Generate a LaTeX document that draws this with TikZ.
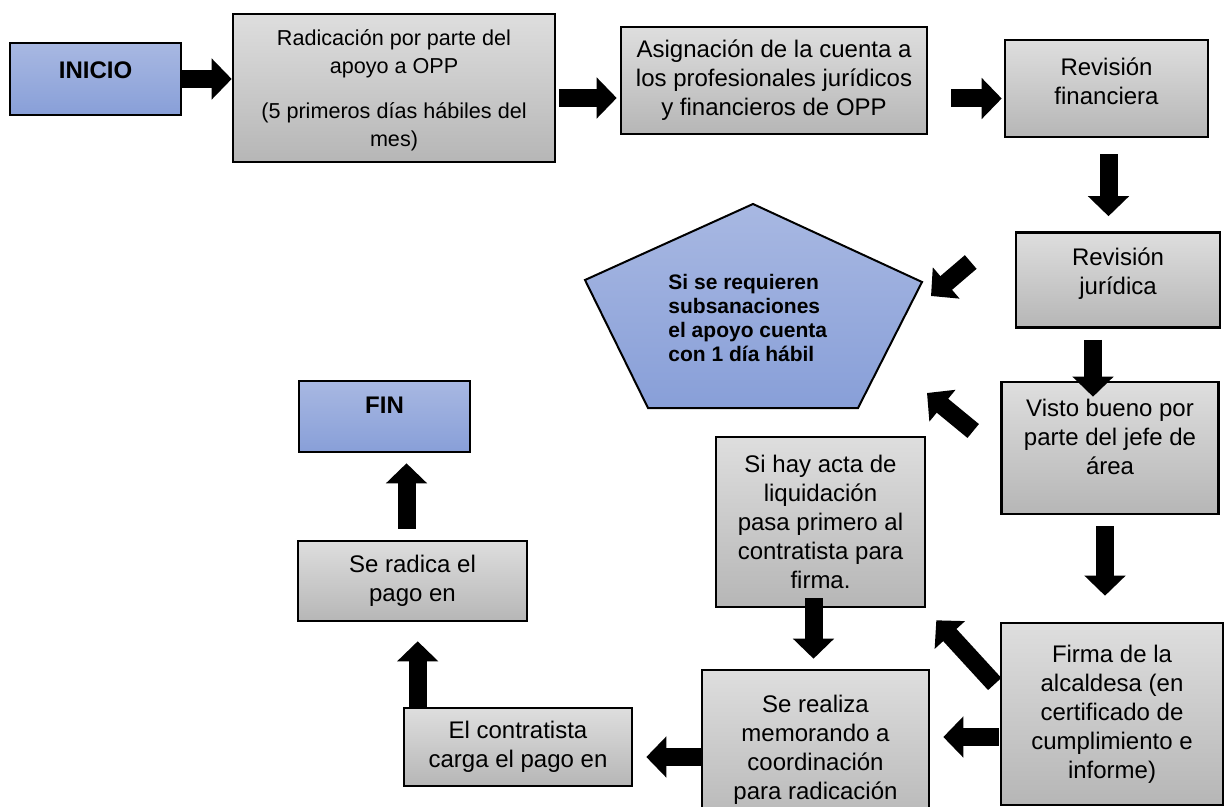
\documentclass[tikz,border=0pt]{standalone}
\usepackage{fontspec}
\setmainfont{Liberation Sans}
\usetikzlibrary{arrows.meta,calc}

\definecolor{boxtop}{RGB}{222,222,222}
\definecolor{boxbot}{RGB}{182,182,182}
\definecolor{bluetop}{RGB}{168,184,226}
\definecolor{bluebot}{RGB}{136,159,216}

\begin{document}
\begin{tikzpicture}[x=0.5pt,y=-0.5pt,
			graybox/.style={rectangle, draw=black, line width=1.3pt, top color=boxtop, bottom color=boxbot, align=center, inner sep=0pt, font=\fontsize{12}{14.5}\selectfont},
			bluebox/.style={rectangle, draw=black, line width=1.3pt, top color=bluetop, bottom color=bluebot, align=center, inner sep=0pt, font=\bfseries\fontsize{12}{14.5}\selectfont},
			lift/.style={text depth=#1},
			blk/.style={line width=9pt, -{Triangle[width=20pt,length=10pt]}},
			]
\useasboundingbox (0,0) rectangle (1224,807);

% boxes
\node[bluebox, lift=9pt, minimum width=85.5pt, minimum height=36pt] (inicio) at (95.5,79) {INICIO};
\node[graybox, lift=-3.5pt, font=\fontsize{10.8}{14}\selectfont, minimum width=161pt, minimum height=74pt] (rad) at (394,88) {Radicación por parte del\\apoyo a OPP\\[8.5pt](5 primeros días hábiles del\\mes)};
\node[graybox, minimum width=153pt, minimum height=53.5pt] (asig) at (774,80.5) {Asignación de la cuenta a\\los profesionales jurídicos\\y financieros de OPP};
\node[graybox, lift=7pt, minimum width=101.5pt, minimum height=48.5pt] (revf) at (1106.5,88.5) {Revisión\\financiera};
\node[graybox, lift=8.5pt, minimum width=102pt, minimum height=47.5pt] (revj) at (1118,280) {Revisión\\jurídica};
\node[graybox, lift=11.5pt, minimum width=108.5pt, minimum height=66pt] (visto) at (1110,448) {Visto bueno por\\parte del jefe de\\área};
\node[graybox, minimum width=111pt, minimum height=91pt] (firma) at (1112,714) {Firma de la\\alcaldesa (en\\certificado de\\cumplimiento e\\informe)};
\node[graybox, minimum width=104.5pt, minimum height=85pt] (acta) at (820.5,522) {Si hay acta de\\liquidación\\pasa primero al\\contratista para\\firma.};
\node[graybox, minimum width=113.5pt, minimum height=80pt] (realiza) at (815.5,750) {Se realiza\\memorando a\\coordinación\\para radicación};
\node[graybox, minimum width=114pt, minimum height=39pt] (contr) at (518,747) {El contratista\\carga el pago en};
\node[graybox, minimum width=114.5pt, minimum height=40pt] (radica) at (412.5,581) {Se radica el\\pago en};
\node[bluebox, lift=11.5pt, minimum width=85.5pt, minimum height=35.5pt] (fin) at (384.5,416.5) {FIN};

% pentagon
\coordinate (pt) at (753,204);
\coordinate (pe) at (922,282);
\coordinate (pbr) at (858,408);
\coordinate (pbl) at (648,408);
\coordinate (pw) at (585,280);
\path[draw=black, line width=1pt, top color=bluetop, bottom color=bluebot] (pt) -- (pe) -- (pbr) -- (pbl) -- (pw) -- cycle;
\node[font=\bfseries\fontsize{10.5}{12}\selectfont, align=left, anchor=west, inner sep=0pt] (subsan) at (668,318) {Si se requieren\\subsanaciones\\el apoyo cuenta\\con 1 día hábil};

% arrows
\draw[blk] (inicio.east) -- (rad.west |- inicio.east);
\draw[blk] ($(rad.east)+(3,10)$) -- ($(asig.west |- rad.east)+(-3,10)$);
\draw[blk] ($(asig.east)+(23,18)$) -- ($(revf.west |- asig.east)+(-2,18)$);
\draw[blk] ($(revf.south)+(2,16)$) -- ($(revj.north -| revf.south)+(2,-15)$);
\draw[blk] ($(revj.west)+(-44,-18)$) -- ($(pe)+(9,14)$);
\draw[blk] ($(revj.south)+(-25,11)$) -- ($(visto.north)+(-17,16)$);
\draw[blk] ($(visto.west)+(-27,-17)$) -- ($(pbr)+(69,-15)$);
\draw[blk] ($(visto.south)+(-5,11)$) -- ($(firma.north)+(-7,-26)$);
\draw[blk] ($(firma.west)+(-5,-30)$) -- ($(acta.south east)+(10,12)$);
\draw[blk] ($(firma.west)+(-1,23)$) -- ($(realiza.east |- firma.west)+(13,23)$);
\draw[blk] ($(acta.south)+(-7,-10)$) -- ($(realiza.north -| acta.south)+(-7,-10)$);
\draw[blk] ($(realiza.west)+(0,7)$) -- ($(contr.east |- realiza.west)+(13,7)$);
\draw[blk] ($(contr.north west)+(15,0)$) -- ($(radica.south -| contr.north west)+(15,19)$);
\draw[blk] ($(radica.north)+(-6,-11)$) -- ($(fin.south -| radica.north)+(-6,10)$);

\end{tikzpicture}
\end{document}
